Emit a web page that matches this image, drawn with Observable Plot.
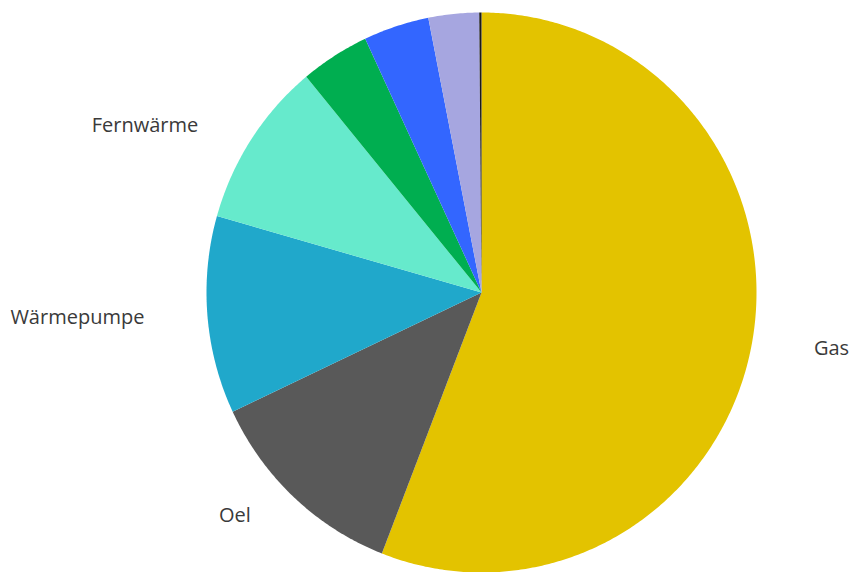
<!DOCTYPE html>
<html>
<head>
<meta charset="utf-8">
<script src="https://cdn.jsdelivr.net/npm/d3@7"></script>
<script src="https://cdn.jsdelivr.net/npm/@observablehq/plot@0.6"></script>
<style>
  html, body { margin: 0; padding: 0; background: #fff; }
  #chart svg { display: block; }
</style>
</head>
<body>
<div id="chart"></div>
<script>
// Data
const categories = ["Gas", "Oel", "Wärmepumpe", "Fernwärme", "Holz", "Elektro", "Solar", "Sonstige"];
const shares = [55.9, 12.1, 11.4, 9.6, 4.05, 3.85, 2.97, 0.13];
const colors = ["#E3C300", "#595959", "#20A8CB", "#66EACC", "#00AE50", "#3366FF", "#A6A6E0", "#1a1a1a"];
const labeledCategories = ["Gas", "Oel", "Wärmepumpe", "Fernwärme"];

const table = categories.map((c, i) => ({category: c, value: shares[i]}));
const arcs = d3.pie().sort(null).value(d => d.value)(table);

// Slice outlines in unit-circle coordinates (y up, angle clockwise from top)
const slicePts = [];
for (const a of arcs) {
  const cat = a.data.category;
  slicePts.push({category: cat, x: 0, y: 0});
  const n = Math.max(2, Math.ceil((a.endAngle - a.startAngle) / (Math.PI / 360)));
  for (let k = 0; k <= n; k++) {
    const t = a.startAngle + (a.endAngle - a.startAngle) * k / n;
    slicePts.push({category: cat, x: Math.sin(t), y: Math.cos(t)});
  }
  slicePts.push({category: cat, x: 0, y: 0});
}

// Label anchors placed outside the pie along the slice's mid angle
const labels = arcs
  .filter(a => labeledCategories.includes(a.data.category))
  .map(a => {
    const m = (a.startAngle + a.endAngle) / 2;
    return {category: a.data.category, x: 1.23 * Math.sin(m), y: 1.09 * Math.cos(m)};
  });

const W = 850, H = 572;
const cx = 481, cy = 292, rx = 275, ry = 280;

const chart = Plot.plot({
  width: W,
  height: H,
  margin: 0,
  style: {background: "#fff", fontFamily: "'Open Sans', sans-serif"},
  x: {domain: [(0 - cx) / rx, (W - cx) / rx], range: [0, W], axis: null},
  y: {domain: [(cy - H) / ry, cy / ry], range: [H, 0], axis: null},
  color: {domain: categories, range: colors},
  marks: [
    Plot.line(slicePts, {x: "x", y: "y", z: "category", fill: "category", stroke: "none", curve: "linear"}),
    Plot.text(labels.filter(d => d.x >= 0), {x: "x", y: "y", text: "category", textAnchor: "start", fontSize: 20, fill: "#3a3a3a"}),
    Plot.text(labels.filter(d => d.x < 0), {x: "x", y: "y", text: "category", textAnchor: "end", fontSize: 20, fill: "#3a3a3a"})
  ]
});

document.getElementById("chart").appendChild(chart);
</script>
</body>
</html>
